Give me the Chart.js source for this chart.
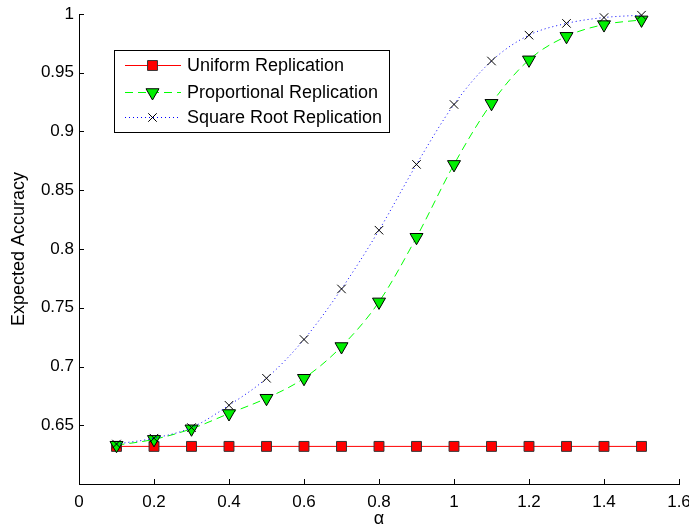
<!DOCTYPE html>
<html>
<head>
<meta charset="utf-8">
<script src="https://cdn.jsdelivr.net/npm/chart.js@4.4.1/dist/chart.umd.min.js"></script>
<style>
  html, body { margin: 0; padding: 0; background: #fff; }
  canvas { display: block; }
</style>
</head>
<body>
<canvas id="chart" width="689" height="527"></canvas>
<script>
const ALPHA = [0.1, 0.2, 0.3, 0.4, 0.5, 0.6, 0.7, 0.8, 0.9, 1.0, 1.1, 1.2, 1.3, 1.4, 1.5];
const UNIFORM = [0.632, 0.632, 0.632, 0.632, 0.632, 0.632, 0.632, 0.632, 0.632, 0.632, 0.632, 0.632, 0.632, 0.632, 0.632];
const PROPORTIONAL = [0.633, 0.638, 0.647, 0.660, 0.673, 0.690, 0.717, 0.755, 0.810, 0.872, 0.924, 0.961, 0.981, 0.991, 0.995];
const SQUARE_ROOT = [0.634, 0.639, 0.648, 0.667, 0.690, 0.723, 0.766, 0.816, 0.872, 0.923, 0.960, 0.982, 0.992, 0.997, 0.999];
const SERIES_NAMES = ['Uniform Replication', 'Proportional Replication', 'Square Root Replication'];

const FONT = '"Liberation Sans", Arial, sans-serif';
const TICK_LEN = 5;
const LINE_COLORS = ['#ff0000', '#00ff00', '#0000ff'];
const LINE_DASHES = [[], [8, 5], [1, 3]];

const toPoints = vals => ALPHA.map((a, i) => ({ x: a, y: vals[i] }));
const fmt = v => String(Number(v.toFixed(2)));

// MATLAB style ticks: drawn inward from the axis lines
const insideTicks = {
  id: 'insideTicks',
  afterDraw(chart) {
    const { ctx, chartArea: a, scales: { x, y } } = chart;
    ctx.save();
    ctx.strokeStyle = '#000';
    ctx.lineWidth = 1;
    ctx.beginPath();
    x.ticks.forEach(t => {
      const px = Math.round(x.getPixelForValue(t.value)) + 0.5;
      ctx.moveTo(px, a.bottom);
      ctx.lineTo(px, a.bottom - TICK_LEN);
    });
    y.ticks.forEach(t => {
      const py = Math.round(y.getPixelForValue(t.value)) + 0.5;
      ctx.moveTo(a.left, py);
      ctx.lineTo(a.left + TICK_LEN, py);
    });
    ctx.stroke();
    ctx.restore();
  }
};

// legend box with line sample + marker, like the MATLAB one
const boxLegend = {
  id: 'boxLegend',
  afterDraw(chart) {
    const { ctx } = chart;
    const box = { x: 114.5, y: 50.5, w: 275, h: 82 };
    const rows = [65, 92, 117];
    ctx.save();
    ctx.fillStyle = '#fff';
    ctx.strokeStyle = '#000';
    ctx.lineWidth = 1;
    ctx.fillRect(box.x, box.y, box.w, box.h);
    ctx.strokeRect(box.x, box.y, box.w, box.h);
    ctx.font = '18px ' + FONT;
    ctx.textBaseline = 'middle';

    chart.data.datasets.forEach((ds, i) => {
      const yy = rows[i] + 0.5;
      ctx.save();
      ctx.strokeStyle = LINE_COLORS[i];
      ctx.lineWidth = 1;
      ctx.setLineDash(LINE_DASHES[i]);
      ctx.beginPath();
      ctx.moveTo(125, yy);
      ctx.lineTo(181, yy);
      ctx.stroke();
      ctx.restore();

      ctx.save();
      ctx.setLineDash([]);
      ctx.fillStyle = ds.pointBackgroundColor;
      ctx.strokeStyle = ds.pointBorderColor;
      ctx.lineWidth = ds.pointBorderWidth;
      Chart.helpers.drawPoint(ctx, {
        pointStyle: ds.pointStyle,
        radius: ds.pointRadius,
        rotation: ds.pointRotation || 0,
        borderWidth: ds.pointBorderWidth,
      }, 152.5, yy);
      ctx.restore();

      ctx.fillStyle = '#000';
      ctx.fillText(ds.label, 187, rows[i] + 1);
    });
    ctx.restore();
  }
};

const baseAxis = {
  border: { display: true, color: '#000', width: 1 },
  grid: { display: true, drawOnChartArea: false, drawTicks: false },
  ticks: { color: '#000', font: { family: FONT, size: 17 } },
};

new Chart(document.getElementById('chart'), {
  type: 'line',
  data: {
    datasets: [
      {
        label: SERIES_NAMES[0],
        data: toPoints(UNIFORM),
        borderColor: LINE_COLORS[0],
        borderWidth: 1,
        pointStyle: 'rect',
        pointRadius: 7,
        pointBackgroundColor: '#ff0000',
        pointBorderColor: '#333',
        pointBorderWidth: 1,
        order: 3,
      },
      {
        label: SERIES_NAMES[1],
        data: toPoints(PROPORTIONAL),
        borderColor: LINE_COLORS[1],
        borderWidth: 1,
        borderDash: LINE_DASHES[1],
        pointStyle: 'triangle',
        pointRotation: 180,
        pointRadius: 7.5,
        pointBackgroundColor: '#00ee00',
        pointBorderColor: '#000',
        pointBorderWidth: 1,
        cubicInterpolationMode: 'monotone',
        order: 2,
      },
      {
        label: SERIES_NAMES[2],
        data: toPoints(SQUARE_ROOT),
        borderColor: LINE_COLORS[2],
        borderWidth: 1,
        borderDash: LINE_DASHES[2],
        pointStyle: 'crossRot',
        pointRadius: 6,
        pointBackgroundColor: '#000',
        pointBorderColor: '#000',
        pointBorderWidth: 1,
        cubicInterpolationMode: 'monotone',
        order: 1,
      },
    ],
  },
  options: {
    responsive: false,
    animation: false,
    clip: false,
    layout: { padding: { top: 14, right: 10, left: 0, bottom: 0 } },
    plugins: {
      legend: { display: false },
      tooltip: { enabled: false },
    },
    scales: {
      x: {
        ...baseAxis,
        type: 'linear',
        min: 0,
        max: 1.6,
        ticks: { ...baseAxis.ticks, stepSize: 0.2, padding: 8, maxRotation: 0, callback: v => fmt(v) },
        title: { display: true, text: 'α', color: '#000', font: { family: FONT, size: 18 }, padding: { top: 0, bottom: -3 } },
        afterFit: s => { s.height = 43; s.paddingLeft = 0; s.paddingRight = 0; },
      },
      y: {
        ...baseAxis,
        min: 0.6,
        max: 1,
        ticks: { ...baseAxis.ticks, stepSize: 0.05, padding: 5, callback: v => (v < 0.62 ? '' : fmt(v)) },
        title: { display: true, text: 'Expected Accuracy', color: '#000', font: { family: FONT, size: 18 }, padding: { top: 8, bottom: 0 } },
        afterFit: s => { s.width = 79; s.paddingTop = 0; s.paddingBottom = 0; },
      },
    },
  },
  plugins: [insideTicks, boxLegend],
});
</script>
</body>
</html>
